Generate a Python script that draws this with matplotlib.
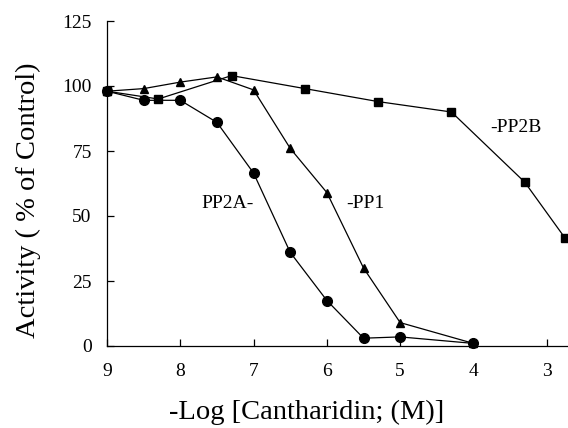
import matplotlib
matplotlib.use("Agg")
import matplotlib.pyplot as plt

plt.rcParams["font.family"] = ["Liberation Serif", "DejaVu Serif"]

# ── Data ─────────────────────────────────────────────────────────────────────
pp2a_x = [9, 8.5, 8, 7.5, 7, 6.5, 6, 5.5, 5, 4]
pp2a_y = [98, 94.5, 94.5, 86, 66.5, 36, 17.5, 3, 3.5, 1]

pp1_x = [9, 8.5, 8, 7.5, 7, 6.5, 6, 5.5, 5, 4]
pp1_y = [98, 99, 101.5, 103.5, 98.5, 76, 59, 30, 9, 1]

pp2b_x = [9, 8.3, 7.3, 6.3, 5.3, 4.3, 3.3, 2.75]
pp2b_y = [98, 95, 104, 99, 94, 90, 63, 41.5]

x_ticks = [9, 8, 7, 6, 5, 4, 3]
y_ticks = [0, 25, 50, 75, 100, 125]

# ── Figure ───────────────────────────────────────────────────────────────────
fig = plt.figure(figsize=(5.68, 4.28), dpi=100)
ax = fig.add_axes([107 / 568, 82 / 428, 461 / 568, 325 / 428])

kw = dict(color="black", lw=0.9, clip_on=False)
ax.plot(pp2b_x, pp2b_y, marker="s", ms=5.4, **kw)
ax.plot(pp1_x, pp1_y, marker="^", ms=6.4, **kw)
ax.plot(pp2a_x, pp2a_y, marker="o", ms=7.0, **kw)

ax.set_xlim(9, 2.71)
ax.set_ylim(0, 125)
ax.set_xticks(x_ticks)
ax.set_yticks(y_ticks)
ax.tick_params(direction="in", length=5, width=0.9, labelsize=14)
ax.tick_params(axis="y", pad=11)
ax.tick_params(axis="x", pad=12)

for side in ("top", "right"):
    ax.spines[side].set_visible(False)
for side in ("left", "bottom"):
    ax.spines[side].set_linewidth(0.9)

ax.text(7.0, 55, "PP2A-", ha="right", va="center", fontsize=14)
ax.text(5.73, 55, "-PP1", ha="left", va="center", fontsize=14)
ax.text(3.77, 84, "-PP2B", ha="left", va="center", fontsize=14)

fig.text(28 / 568, 1 - 200 / 428, "Activity ( % of Control)", rotation=90,
         ha="center", va="center", fontsize=20.5)
fig.text(307 / 568, 1 - 412 / 428, "-Log [Cantharidin; (M)]",
         ha="center", va="center", fontsize=20.5)

fig.savefig("out.png", dpi=100)
